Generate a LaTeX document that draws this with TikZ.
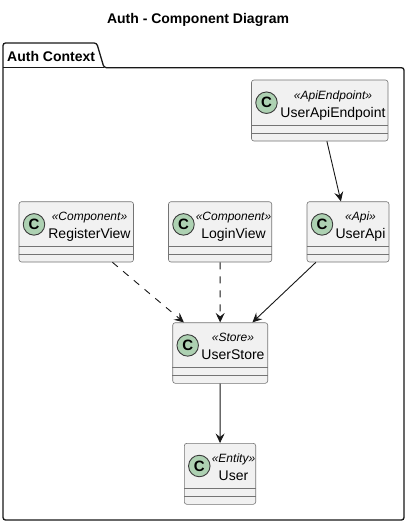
\documentclass[tikz,border=0pt]{standalone}
\usepackage{fontspec}
\setmainfont{Liberation Sans}
\usetikzlibrary{arrows.meta,calc}
\definecolor{umlline}{HTML}{181818}
\definecolor{umlfill}{HTML}{F1F1F1}
\definecolor{spotfill}{HTML}{ADD1B2}
\tikzset{
  x=1pt,y=-1pt,
  titletext/.style={font=\fontsize{14}{16}\selectfont\bfseries,text=black,inner sep=0pt,anchor=base},
  pkgtext/.style={font=\fontsize{14}{16}\selectfont\bfseries,text=black,inner sep=0pt,anchor=base west},
  classbox/.style={draw=umlline!60,line width=0.6pt,fill=umlfill,rounded corners=2.5pt,inner sep=0pt},
  classsep/.style={draw=umlline!60,line width=0.6pt},
  spot/.style={circle,draw=umlline!85,line width=0.9pt,fill=spotfill,minimum size=21.5pt,inner sep=0pt,font=\fontsize{15}{16}\selectfont\bfseries},
  stereo/.style={font=\fontsize{12}{14}\selectfont\itshape,inner sep=0pt,anchor=base},
  classname/.style={font=\fontsize{14}{16}\selectfont,inner sep=0pt,anchor=base},
  rel/.style={draw=umlline,line width=0.9pt,-{Stealth[length=9.5pt,width=9pt,inset=3.5pt]}},
  reldash/.style={rel,dash pattern=on 7pt off 7pt},
  pkg/.style={draw=umlline,line width=1.3pt,fill=white,rounded corners=2.5pt},
}
% id, left, top, right, bottom, text centre x, stereotype, name
\newcommand{\umlclass}[8]{%
  \node[classbox,minimum width=#4pt-#2pt,minimum height=#5pt-#3pt] (#1) at ({(#2+#4)/2},{(#3+#5)/2}) {};
  \draw[classsep] ($(#1.south west)+(0,-16)$) -- ($(#1.south east)+(0,-16)$);
  \draw[classsep] ($(#1.south west)+(0,-8)$) -- ($(#1.south east)+(0,-8)$);
  \node[spot] (#1spot) at ({#2+15},{#3+22.7}) {C};
  \node[stereo] (#1st) at (#6,{#3+19}) {«#7»};
  \node[classname] (#1nm) at (#6,{#3+37}) {#8};
}
\begin{document}
\begin{tikzpicture}
\useasboundingbox (0,0) rectangle (411,525);
\node[titletext] (title) at (198,23) {Auth - Component Diagram};
\draw[pkg] (3,67.7) -- (3,43) -- (96.7,43) -- (104,67.7) -- (404,67.7) -- (404,520) -- (3,520) -- cycle;
\draw[draw=umlline,line width=1.1pt] (3,67.7) -- (104,67.7);
\node[pkgtext] (pkgname) at (7,61) {Auth Context};
\umlclass{ep}{251.5}{80}{388}{141}{333}{ApiEndpoint}{UserApiEndpoint}
\umlclass{reg}{19}{201.7}{133.5}{262}{89.5}{Component}{RegisterView}
\umlclass{log}{168.5}{201.7}{271.7}{262}{233.5}{Component}{LoginView}
\umlclass{api}{307}{201.7}{389}{262}{360.5}{Api}{UserApi}
\umlclass{store}{172.7}{322.7}{267.7}{383.3}{233}{Store}{UserStore}
\umlclass{usr}{184.3}{443.3}{255.7}{504.3}{233.5}{Entity}{User}
\draw[rel] (ep) -- (api);
\draw[reldash] (reg) -- (store);
\draw[reldash] (log) -- (store);
\draw[rel] (api) -- (store);
\draw[rel] (store) -- (usr);
\end{tikzpicture}
\end{document}
